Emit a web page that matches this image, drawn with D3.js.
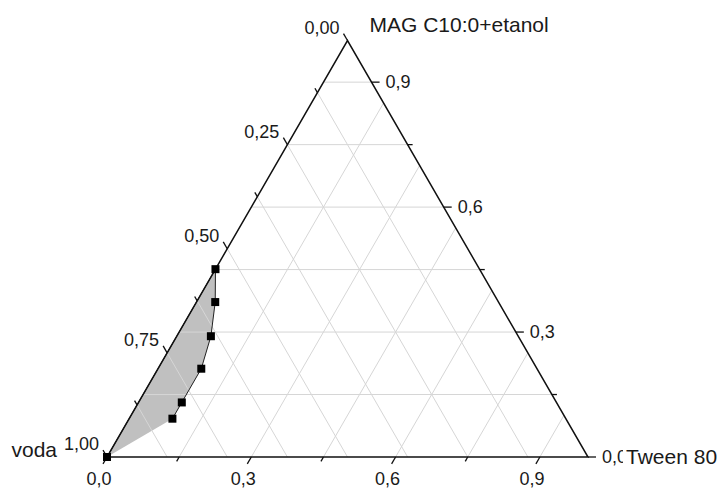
<!DOCTYPE html>
<html>
<head>
<meta charset="utf-8">
<script src="https://cdn.jsdelivr.net/npm/d3@7"></script>
<style>
  body { margin: 0; background: #fff; }
  text { font-family: "Liberation Sans", Arial, sans-serif; fill: #1a1a1a; }
</style>
</head>
<body>
<div id="chart"></div>
<script>
// ternary: voda (bottom-left), Tween 80 (bottom-right), MAG C10:0+etanol (top)
const voda  = [1.000, 0.818, 0.779, 0.698, 0.639, 0.589, 0.549];
const tween = [0.000, 0.090, 0.090, 0.090, 0.071, 0.039, 0.000];
const mag   = [0.000, 0.092, 0.131, 0.212, 0.290, 0.372, 0.451];

const tweenTicks = [0, 0.15, 0.3, 0.45, 0.6, 0.75, 0.9];
const tweenLabels = ["0,0", "", "0,3", "", "0,6", "", "0,9"];
const magTicks = [0, 0.15, 0.3, 0.45, 0.6, 0.75, 0.9];
const magLabels = ["0,0", "", "0,3", "", "0,6", "", "0,9"];
const vodaTicks = [0, 0.125, 0.25, 0.375, 0.5, 0.625, 0.75, 0.875, 1];
const vodaLabels = ["0,00", "", "0,25", "", "0,50", "", "0,75", "", "1,00"];

const width = 723, height = 490;

const x = d3.scaleLinear().domain([0, 1]).range([107, 588]);
const y = d3.scaleLinear().domain([0, 1]).range([457, 40.5]);

// position from (tween, mag)
const px = (t, m) => x(t + m / 2);
const py = (t, m) => y(m);

const svg = d3.select("#chart").append("svg")
  .attr("width", width)
  .attr("height", height);

const gridColor = "#d6d6d6";
const grid = svg.append("g").attr("stroke", gridColor).attr("stroke-width", 1);

// filled region first, grid lines over it
const pts = voda.map((v, i) => [px(tween[i], mag[i]), py(tween[i], mag[i])]);
svg.insert("path", "g")
  .attr("d", d3.line()(pts) + "Z")
  .attr("fill", "#c0c0c0")
  .attr("stroke", "none");

// constant tween
tweenTicks.filter(t => t > 0).forEach(t => {
  grid.append("line")
    .attr("x1", px(t, 0)).attr("y1", py(t, 0))
    .attr("x2", px(t, 1 - t)).attr("y2", py(t, 1 - t));
});
// constant mag
magTicks.filter(m => m > 0).forEach(m => {
  grid.append("line")
    .attr("x1", px(0, m)).attr("y1", py(0, m))
    .attr("x2", px(1 - m, m)).attr("y2", py(1 - m, m));
});
// constant voda
vodaTicks.filter(w => w > 0 && w < 1).forEach(w => {
  grid.append("line")
    .attr("x1", px(0, 1 - w)).attr("y1", py(0, 1 - w))
    .attr("x2", px(1 - w, 0)).attr("y2", py(1 - w, 0));
});

// outline of region
svg.append("path")
  .attr("d", d3.line()(pts.slice(1).concat([pts[0]])))
  .attr("fill", "none")
  .attr("stroke", "#222")
  .attr("stroke-width", 1);

// triangle
svg.append("path")
  .attr("d", d3.line()([[px(0, 0), py(0, 0)], [px(1, 0), py(1, 0)], [px(0, 1), py(0, 1)]]) + "Z")
  .attr("fill", "none")
  .attr("stroke", "#111")
  .attr("stroke-width", 1.5);

const ticks = svg.append("g").attr("stroke", "#111").attr("stroke-width", 1.3);
const c60 = 0.5, s60 = Math.sqrt(3) / 2;

// bottom axis (tween)
tweenTicks.forEach((t, i) => {
  const len = tweenLabels[i] ? 8 : 5;
  const x0 = px(t, 0), y0 = py(t, 0);
  ticks.append("line")
    .attr("x1", x0).attr("y1", y0)
    .attr("x2", x0 - c60 * len).attr("y2", y0 + s60 * len);
  if (tweenLabels[i]) {
    svg.append("text")
      .attr("x", x0 - 8).attr("y", 485)
      .attr("text-anchor", "middle")
      .attr("font-size", 18)
      .text(tweenLabels[i]);
  }
});

// right axis (mag)
magTicks.forEach((m, i) => {
  const len = magLabels[i] ? 8 : 5;
  const x0 = px(1 - m, m), y0 = py(1 - m, m);
  ticks.append("line")
    .attr("x1", x0).attr("y1", y0)
    .attr("x2", x0 + len).attr("y2", y0);
  if (magLabels[i]) {
    svg.append("text")
      .attr("x", x0 + 14).attr("y", y0)
      .attr("dy", "0.35em")
      .attr("font-size", 18)
      .text(magLabels[i]);
  }
});

// left axis (voda)
vodaTicks.forEach((w, i) => {
  const len = vodaLabels[i] ? 8 : 5;
  const x0 = px(0, 1 - w), y0 = py(0, 1 - w);
  ticks.append("line")
    .attr("x1", x0).attr("y1", y0)
    .attr("x2", x0 - c60 * len).attr("y2", y0 - s60 * len);
  if (vodaLabels[i]) {
    svg.append("text")
      .attr("x", x0 - 8).attr("y", y0 - 7)
      .attr("text-anchor", "end")
      .attr("font-size", 18)
      .text(vodaLabels[i]);
  }
});

// markers
svg.append("g").selectAll("rect")
  .data(pts)
  .join("rect")
  .attr("x", d => d[0] - 4)
  .attr("y", d => d[1] - 4)
  .attr("width", 8)
  .attr("height", 8)
  .attr("fill", "#000");

// axis titles
svg.append("text")
  .attr("x", px(0, 1) + 22).attr("y", py(0, 1) - 9)
  .attr("font-size", 21)
  .text("MAG C10:0+etanol");

svg.append("text")
  .attr("x", px(0, 0) - 50).attr("y", py(0, 0))
  .attr("text-anchor", "end")
  .attr("font-size", 21)
  .text("voda");

svg.append("rect")
  .attr("x", px(1, 0) + 35).attr("y", py(1, 0) - 12)
  .attr("width", 110).attr("height", 24)
  .attr("fill", "#fff");
svg.append("text")
  .attr("x", px(1, 0) + 38).attr("y", py(1, 0))
  .attr("dy", "0.35em")
  .attr("font-size", 21)
  .text("Tween 80");
</script>
</body>
</html>
